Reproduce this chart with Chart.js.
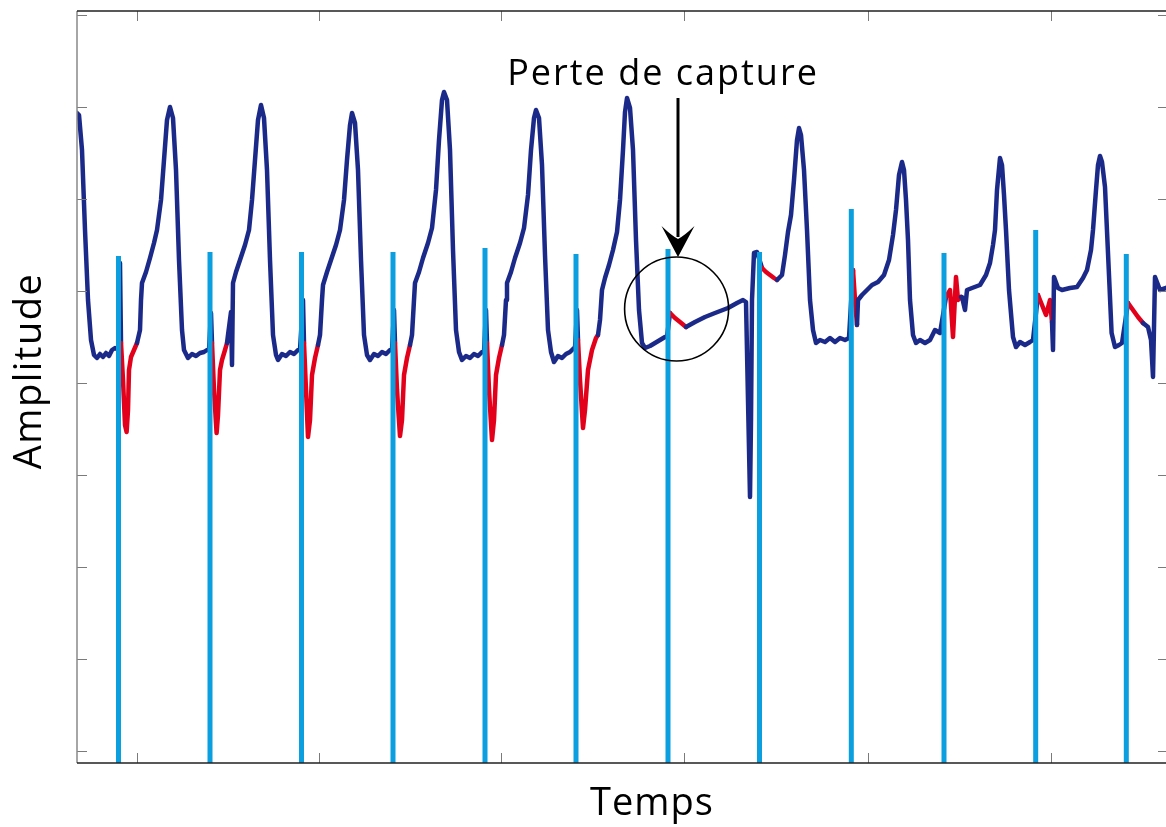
<!DOCTYPE html>
<html>
<head>
<meta charset="utf-8">
<script src="https://cdn.jsdelivr.net/npm/chart.js@4"></script>
<style>
  html, body { margin: 0; padding: 0; background: #fff; overflow: hidden; }
  #wrap { position: relative; width: 1170px; height: 827px; }
</style>
</head>
<body>
<div id="wrap"><canvas id="ecg-chart"></canvas></div>
<script>
// ECG trace: time (ms) and amplitude (arbitrary units), one line per beat
const ecgTime = [
  0,10,25,40,55,70,85,100,115,130,145,160,175,190,200,210,215,
  220,230,240,248,255,260,270,285,300,315,320,325,345,365,385,400,420,435,450,465,480,495,510,525,535,555,575,595,615,635,650,660,670,
  675,685,698,705,715,725,740,750,755,770,775,780,795,815,840,860,875,890,905,920,935,950,965,980,995,1005,1025,1045,1065,1085,1105,1115,1130,
  1135,1145,1155,1165,1175,1190,1205,1215,1225,1230,1250,1270,1295,1315,1335,1350,1365,1375,1390,1405,1420,1435,1450,1465,1485,1505,1525,1545,1565,1575,1585,
  1590,1600,1615,1625,1635,1650,1665,1675,1685,1690,1710,1730,1755,1775,1795,1810,1825,1835,1850,1865,1880,1895,1910,1925,1945,1965,1985,2005,2025,2035,2045,
  2050,2060,2075,2085,2095,2110,2125,2135,2145,2150,2170,2190,2215,2235,2255,2270,2285,2295,2310,2325,2340,2355,2370,2385,2405,2425,2445,2465,2485,2490,2500,
  2505,2515,2530,2540,2555,2575,2595,2605,2615,2625,2640,2660,2680,2700,2715,2730,2740,2750,2765,2780,2795,2810,2825,2840,2865,2890,2915,2940,2950,
  2965,2990,3015,3045,3090,3140,3190,3255,3300,3330,3345,3355,3365,3370,3375,3385,3400,
  3425,3445,3465,3485,3500,3510,3525,3540,3555,3570,3585,3600,3610,3620,3635,3650,3665,3680,3695,3715,3740,3765,3790,3815,3840,3860,
  3880,3890,3900,3905,3925,3950,3975,4005,4035,4060,4080,4095,4110,4125,4135,4145,4155,4165,4180,4195,4215,4240,4265,4290,4315,
  4345,4365,4380,4395,4405,4420,4425,4440,4450,4475,4515,4545,4565,4580,4590,4600,4615,4625,4635,4645,4660,4680,4695,4715,4740,4765,4780,
  4805,4825,4845,4865,4875,4880,4885,4905,4925,4965,5000,5030,5050,5070,5080,5095,5105,5115,5125,5140,5155,5173,5190,5210,5225,
  5255,5280,5305,5330,5355,5370,5380,5390,5415,5445,5455
];
const ecgAmplitude = [
  6.38,6.36,6.01,5.21,4.51,4.11,3.96,3.93,3.97,3.94,3.98,3.95,4.01,4.03,4.02,4.03,4.88,
  4.08,3.71,3.26,3.19,3.41,3.81,3.94,4.01,4.08,4.21,4.51,4.68,4.79,4.93,5.08,5.21,5.51,5.91,6.31,6.44,6.33,5.81,4.91,4.21,4.01,3.93,3.97,3.95,3.98,3.99,4.01,4.01,4.38,
  4.08,3.61,3.18,3.36,3.81,3.91,4.01,4.08,4.16,4.39,3.86,4.68,4.79,4.91,5.06,5.21,5.51,5.91,6.31,6.46,6.33,5.81,4.91,4.16,3.96,3.91,3.97,3.95,3.99,3.97,4.01,4.01,4.51,
  4.08,3.61,3.14,3.31,3.76,3.93,4.06,4.16,4.51,4.66,4.79,4.91,5.06,5.21,5.51,5.91,6.26,6.38,6.28,5.81,4.91,4.16,3.96,3.91,3.97,3.95,3.99,3.97,4.01,4.01,4.41,
  4.08,3.61,3.15,3.31,3.76,3.93,4.06,4.16,4.51,4.68,4.79,4.93,5.08,5.23,5.61,6.11,6.51,6.59,6.51,6.01,5.01,4.21,3.99,3.91,3.95,3.93,3.97,3.95,3.99,3.99,4.41,
  4.08,3.61,3.11,3.31,3.76,3.93,4.06,4.16,4.51,4.68,4.79,4.93,5.08,5.23,5.56,6.01,6.33,6.41,6.33,5.86,4.96,4.21,3.99,3.89,3.95,3.93,3.97,3.99,4.03,4.03,4.41,
  4.11,3.71,3.23,3.41,3.81,4.01,4.13,4.16,4.31,4.61,4.73,4.86,5.01,5.19,5.51,6.01,6.39,6.53,6.43,6.01,5.11,4.41,4.08,4.03,4.05,4.08,4.11,4.14,4.14,
  4.38,4.33,4.29,4.24,4.29,4.34,4.38,4.43,4.48,4.51,4.49,3.51,2.54,3.31,4.51,4.98,4.99,
  4.83,4.79,4.76,4.73,4.71,4.73,4.76,4.96,5.19,5.36,5.71,6.11,6.23,6.16,5.81,5.21,4.51,4.21,4.08,4.11,4.09,4.13,4.09,4.13,4.11,4.13,
  4.81,4.51,4.26,4.51,4.56,4.61,4.66,4.69,4.76,4.91,5.16,5.41,5.76,5.89,5.81,5.51,5.11,4.51,4.16,4.08,4.11,4.08,4.11,4.21,4.18,
  4.54,4.61,4.14,4.74,4.51,4.54,4.54,4.41,4.61,4.63,4.66,4.76,4.88,5.06,5.21,5.61,5.93,5.86,5.56,5.21,4.61,4.14,4.04,4.09,4.06,4.09,4.11,
  4.56,4.46,4.36,4.51,4.29,4.01,4.74,4.63,4.61,4.63,4.64,4.73,4.81,5.01,5.21,5.61,5.86,5.95,5.89,5.64,4.98,4.18,4.04,4.06,4.08,
  4.48,4.41,4.34,4.28,4.24,4.11,3.74,4.74,4.61,4.63,4.64
];

// evoked-response windows shown in red (ms)
const redStart = [220, 675, 1135, 1590, 2050, 2505, 2965, 3425, 3880, 4345, 4805, 5255];
const redEnd   = [300, 750, 1205, 1665, 2125, 2605, 3045, 3500, 3900, 4420, 4875, 5330];

// pacing spikes (ms) and their top amplitude
const paceTimes = [207.5, 665, 1122.5, 1580, 2040, 2495, 2955, 3412.5, 3871.5, 4335, 4793.5, 5246.5];
const paceTops  = [4.95, 4.99, 4.99, 4.99, 5.03, 4.97, 5.02, 4.99, 5.42, 4.98, 5.21, 4.97];
const paceBase  = -0.12;

// unlabeled tick positions
const xTicks = [298, 1210, 2120, 3035, 3955, 4870];
const yTicks = [0, 0.92, 1.84, 2.76, 3.68, 4.6, 5.52, 6.44, 7.36];

const NAVY = '#1b2a88';
const RED = '#e3001b';
const CYAN = '#0b9fe0';

const ecgPoints = ecgTime.map((t, i) => ({ x: t, y: ecgAmplitude[i] }));
const pacePoints = [];
paceTimes.forEach((t, i) => {
  pacePoints.push({ x: t, y: paceBase }, { x: t, y: paceTops[i] }, { x: t, y: null });
});

function isRed(a, b) {
  for (let i = 0; i < redStart.length; i++) {
    if (a >= redStart[i] && b <= redEnd[i]) return true;
  }
  return false;
}

// frame, inward ticks, titles and the annotation
const decor = {
  id: 'decor',
  afterDatasetsDraw(chart, args, opts) {
    const { ctx, chartArea: a, scales: { x, y } } = chart;
    ctx.save();
    // ticks
    ctx.strokeStyle = '#7a7a7a';
    ctx.lineWidth = 1;
    ctx.beginPath();
    yTicks.forEach(v => {
      const py = Math.round(y.getPixelForValue(v)) + 0.5;
      ctx.moveTo(a.left, py); ctx.lineTo(a.left + 10, py);
      ctx.moveTo(a.right, py); ctx.lineTo(a.right - 10, py);
    });
    xTicks.forEach(v => {
      const px = Math.round(x.getPixelForValue(v)) + 0.5;
      ctx.moveTo(px, a.bottom); ctx.lineTo(px, a.bottom - 10);
      ctx.moveTo(px, a.top); ctx.lineTo(px, a.top + 10);
    });
    ctx.stroke();
    // axes
    ctx.lineWidth = 1.5;
    ctx.strokeStyle = '#888';
    ctx.beginPath(); ctx.moveTo(a.left, a.top); ctx.lineTo(a.left, a.bottom); ctx.stroke();
    ctx.strokeStyle = '#222';
    ctx.beginPath();
    ctx.moveTo(a.left, a.top); ctx.lineTo(a.right, a.top);
    ctx.moveTo(a.left, a.bottom); ctx.lineTo(a.right, a.bottom);
    ctx.stroke();

    // annotation
    const n = opts.note;
    ctx.fillStyle = '#000';
    ctx.strokeStyle = '#000';
    ctx.font = '36px "Open Sans"';
    ctx.letterSpacing = '2px';
    ctx.textAlign = 'center';
    ctx.textBaseline = 'alphabetic';
    ctx.fillText(n.text, x.getPixelForValue(n.x), y.getPixelForValue(n.y));
    const ax = x.getPixelForValue(n.arrowX);
    const ay0 = y.getPixelForValue(n.arrowFrom);
    const tip = y.getPixelForValue(n.arrowTo);
    ctx.lineWidth = 3;
    ctx.beginPath(); ctx.moveTo(ax, ay0); ctx.lineTo(ax, tip - 20); ctx.stroke();
    ctx.beginPath();
    ctx.moveTo(ax, tip);
    ctx.lineTo(ax - 16.5, tip - 31);
    ctx.quadraticCurveTo(ax - 6, tip - 21, ax, tip - 18);
    ctx.quadraticCurveTo(ax + 6, tip - 21, ax + 16.5, tip - 31);
    ctx.closePath();
    ctx.fill();
    ctx.lineWidth = 1.6;
    ctx.beginPath();
    ctx.arc(x.getPixelForValue(n.circleX), y.getPixelForValue(n.circleY), n.radius, 0, Math.PI * 2);
    ctx.stroke();

    // axis titles
    ctx.font = '38px "Open Sans"';
    ctx.letterSpacing = '1px';
    ctx.textBaseline = 'alphabetic';
    ctx.fillText('Temps', a.left + 575, a.bottom + 52);
    ctx.letterSpacing = '1.5px';
    ctx.translate(a.left - 47, a.top + 360);
    ctx.rotate(-Math.PI / 2);
    ctx.textBaseline = 'middle';
    ctx.fillText('Amplitude', 0, 0);
    ctx.restore();
  }
};

new Chart(document.getElementById('ecg-chart'), {
  type: 'line',
  data: {
    datasets: [
      {
        data: pacePoints,
        borderColor: CYAN,
        borderWidth: 5,
        borderCapStyle: 'butt',
        pointRadius: 0,
        spanGaps: false,
        clip: 0
      },
      {
        data: ecgPoints,
        borderColor: NAVY,
        borderWidth: 4.5,
        borderJoinStyle: 'round',
        borderCapStyle: 'round',
        pointRadius: 0,
        clip: 0,
        segment: {
          borderColor: c => isRed(c.p0.parsed.x, c.p1.parsed.x) ? RED : NAVY
        }
      }
    ]
  },
  options: {
    responsive: true,
    maintainAspectRatio: false,
    animation: false,
    events: [],
    layout: { padding: { left: 77, top: 11, right: 2, bottom: 64 } },
    elements: { line: { tension: 0 } },
    scales: {
      x: { type: 'linear', min: 0, max: 5455, display: false },
      y: { type: 'linear', min: -0.12, max: 7.4, display: false }
    },
    plugins: {
      legend: { display: false },
      tooltip: { enabled: false },
      decor: {
        note: {
          text: 'Perte de capture',
          x: 2930, y: 6.66,
          arrowX: 3005, arrowFrom: 6.53, arrowTo: 4.94,
          circleX: 2998, circleY: 4.42, radius: 52
        }
      }
    }
  },
  plugins: [decor]
});
</script>
</body>
</html>
